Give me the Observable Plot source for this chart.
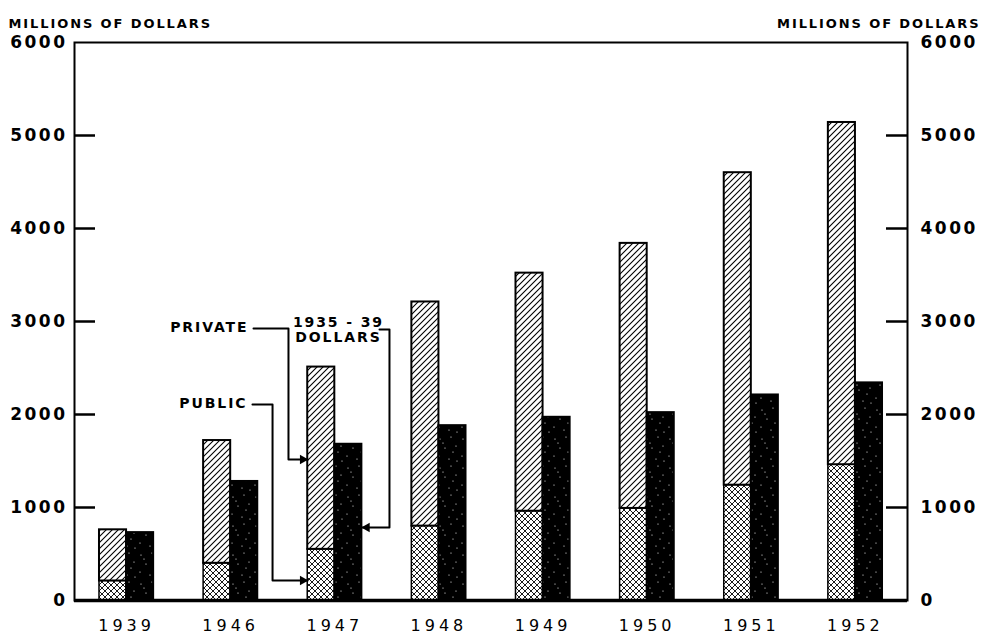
<!DOCTYPE html>
<html><head><meta charset="utf-8">
<script src="https://cdn.jsdelivr.net/npm/d3@7"></script>
<script src="https://cdn.jsdelivr.net/npm/@observablehq/plot@0.6"></script>
<style>
html,body{margin:0;padding:0;background:#fff;}
#chart svg text{letter-spacing:1.9px;}
#chart g[aria-label="y-axis tick label"] text{letter-spacing:2.5px;}
#chart g[aria-label="x-axis tick label"] text{letter-spacing:4px;}
</style></head><body><div id="chart"></div>
<script>
// ---- data (millions of dollars) ----
const years = ["1939","1946","1947","1948","1949","1950","1951","1952"];
const publicCurrent = [210, 400, 550, 800, 960, 990, 1240, 1460];
const totalCurrent = [760, 1720, 2510, 3210, 3520, 3840, 4600, 5140];
const constant1935 = [730, 1280, 1680, 1880, 1970, 2020, 2210, 2340];
const yTicks = [0, 1000, 2000, 3000, 4000, 5000, 6000];
const yAxisTitle = "MILLIONS OF DOLLARS";

// annotation leaders (x in category-index units, y in millions)
const privateLabel = {text: "PRIVATE", x: 1.171, y: 2935};
const publicLabel = {text: "PUBLIC", x: 1.161, y: 2118};
const dollarsLabel = [{text: "1935 - 39", x: 2.035, y: 2989}, {text: "DOLLARS", x: 2.035, y: 2828}];
const privateLeader = [{x: 1.219, y: 2925}, {x: 1.555, y: 2925}, {x: 1.555, y: 1516}, {x: 1.74, y: 1516}];
const publicLeader = [{x: 1.209, y: 2108}, {x: 1.402, y: 2108}, {x: 1.402, y: 215}, {x: 1.74, y: 215}];
const dollarsLeader = [{x: 2.429, y: 2914}, {x: 2.525, y: 2914}, {x: 2.525, y: 785}, {x: 2.26, y: 785}];

const rows = years.map((year, i) => ({i, year, pub: publicCurrent[i], total: totalCurrent[i], real: constant1935[i]}));

const W = 984, H = 637, mL = 74, mR = 77, mT = 42, mB = 37;
const plotW = W - mL - mR;
const BW = 0.26;
const tickLen = 21;
const font = "DejaVu Sans";

const svg = Plot.plot({
  width: W, height: H,
  marginLeft: mL, marginRight: mR, marginTop: mT, marginBottom: mB,
  style: {fontFamily: font, background: "white", color: "black"},
  x: {type: "linear", domain: [-0.5, 7.5]},
  y: {domain: [0, 6000]},
  marks: [
    Plot.rect(rows, {x1: d => d.i - BW, x2: d => d.i, y1: 0, y2: "pub", fill: "url(#xhatch)", stroke: "black", strokeWidth: 1.5}),
    Plot.rect(rows, {x1: d => d.i - BW, x2: d => d.i, y1: "pub", y2: "total", fill: "url(#hatch)", stroke: "black", strokeWidth: 2}),
    Plot.rect(rows, {x1: d => d.i, x2: d => d.i + BW, y1: 0, y2: "real", fill: "url(#stipple)", stroke: "black", strokeWidth: 2}),
    Plot.frame({stroke: "black", strokeWidth: 2}),
    Plot.ruleY([0], {stroke: "black", strokeWidth: 3.5}),
    Plot.ruleY(yTicks.slice(1, -1), {insetRight: plotW - tickLen, stroke: "black", strokeWidth: 2.5}),
    Plot.ruleY(yTicks.slice(1, -1), {insetLeft: plotW - tickLen, stroke: "black", strokeWidth: 2.5}),
    Plot.axisY({anchor: "left", ticks: yTicks, tickFormat: d => String(d), tickSize: 0, tickPadding: 7, fontSize: 17, fontWeight: "bold", label: null}),
    Plot.axisY({anchor: "right", ticks: yTicks, tickFormat: d => String(d), tickSize: 0, tickPadding: 13, fontSize: 17, fontWeight: "bold", label: null}),
    Plot.axisX({ticks: d3.range(years.length), tickFormat: i => years[i], tickSize: 0, tickPadding: 19, fontSize: 16, label: null}),
    Plot.text([yAxisTitle], {text: d => d, frameAnchor: "top-left", dx: 8 - mL, dy: 18 - mT, textAnchor: "start", fontSize: 13, fontWeight: "bold"}),
    Plot.text([yAxisTitle], {text: d => d, frameAnchor: "top-right", dx: 980 - (W - mR), dy: 18 - mT, textAnchor: "end", fontSize: 13, fontWeight: "bold"}),
    Plot.line(privateLeader, {x: "x", y: "y", stroke: "black", strokeWidth: 2}),
    Plot.line(publicLeader, {x: "x", y: "y", stroke: "black", strokeWidth: 2}),
    Plot.line(dollarsLeader, {x: "x", y: "y", stroke: "black", strokeWidth: 2}),
    Plot.dot([privateLeader[3], publicLeader[3]], {x: "x", y: "y", symbol: "triangle", r: 3.6, fill: "black", rotate: 90, dx: -5}),
    Plot.dot([dollarsLeader[3]], {x: "x", y: "y", symbol: "triangle", r: 3.6, fill: "black", rotate: -90, dx: 5}),
    Plot.text([privateLabel, publicLabel], {x: "x", y: "y", text: "text", textAnchor: "end", fontSize: 14, fontWeight: "bold"}),
    Plot.text(dollarsLabel, {x: "x", y: "y", text: "text", textAnchor: "middle", fontSize: 14, fontWeight: "bold"})
  ]
});

const defs = d3.select(svg).insert("defs", ":first-child");
const hatch = defs.append("pattern").attr("id", "hatch").attr("patternUnits", "userSpaceOnUse").attr("width", 6).attr("height", 6);
hatch.append("rect").attr("width", 6).attr("height", 6).attr("fill", "white");
hatch.append("path").attr("d", "M-1,1L1,-1M0,6L6,0M5,7L7,5").attr("stroke", "black").attr("stroke-width", 1.1);
const xh = defs.append("pattern").attr("id", "xhatch").attr("patternUnits", "userSpaceOnUse").attr("width", 6).attr("height", 6);
xh.append("rect").attr("width", 6).attr("height", 6).attr("fill", "white");
xh.append("path").attr("d", "M0,0L6,6M6,0L0,6").attr("stroke", "black").attr("stroke-width", 0.9);
const st = defs.append("pattern").attr("id", "stipple").attr("patternUnits", "userSpaceOnUse").attr("width", 23).attr("height", 29);
st.append("rect").attr("width", 23).attr("height", 29).attr("fill", "black");
[[3,4],[14,2],[19,11],[8,13],[2,21],[12,24],[20,26],[16,17],[6,8]].forEach(([cx, cy]) =>
  st.append("circle").attr("cx", cx).attr("cy", cy).attr("r", 0.6).attr("fill", "white"));

document.getElementById("chart").appendChild(svg);
</script></body></html>
